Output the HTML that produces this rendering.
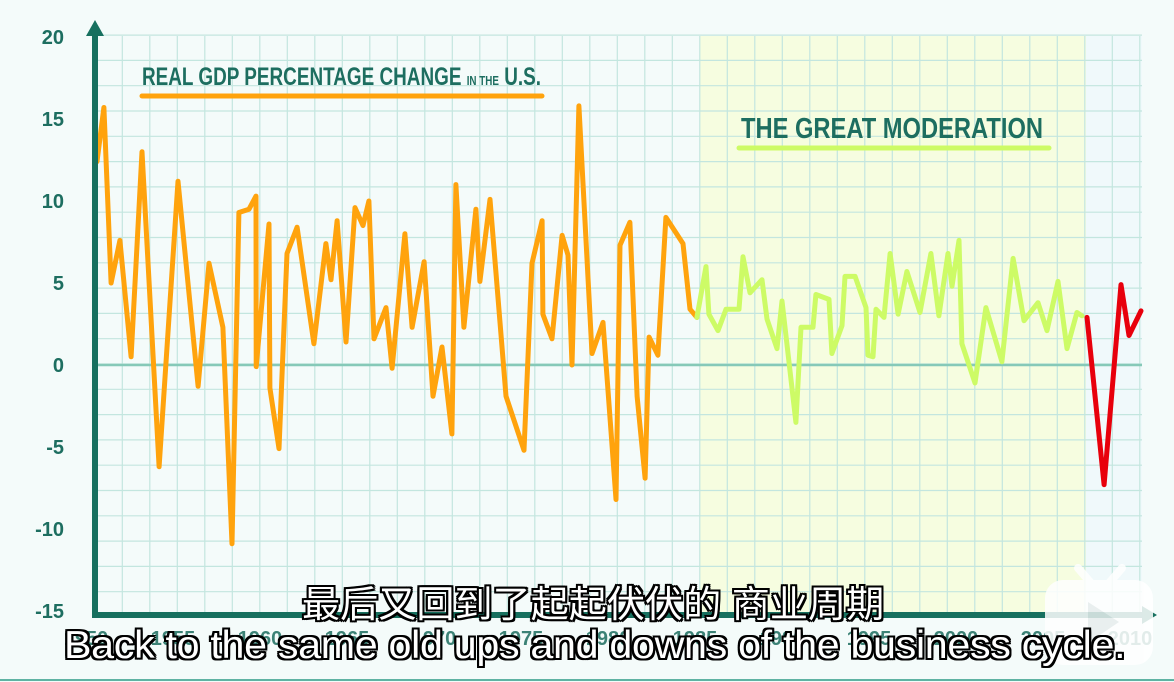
<!DOCTYPE html>
<html><head><meta charset="utf-8">
<style>
html,body{margin:0;padding:0;}
body{width:1174px;height:682px;overflow:hidden;background:#f4fbfa;position:relative;font-family:"Liberation Sans Narrow","Liberation Sans",sans-serif;}
svg{position:absolute;left:0;top:0;}
.sub{position:absolute;white-space:nowrap;color:#fff;transform-origin:0 0;text-shadow:-2px -2px 0 #000,2px -2px 0 #000,-2px 2px 0 #000,2px 2px 0 #000,0 2px 0 #000,0 -2px 0 #000,2px 0 0 #000,-2px 0 0 #000;}
</style></head>
<body>
<svg id="chart" width="1174" height="682"></svg>
<div class="sub" style="left:302px;top:574px;font-size:37px;transform:scaleX(1.03);font-family:'Liberation Sans','Noto Sans CJK SC',sans-serif;">最后又回到了起起伏伏的 商业周期</div>
<div class="sub" style="left:64px;top:624px;font-size:39px;transform:scaleX(1.057);font-family:'Liberation Sans',sans-serif;letter-spacing:-0.3px;">Back to the same old ups and downs of the business cycle.</div>
<script>
const orangeYears=[1950.63,1951.03,1951.44,1951.95,1952.59,1953.22,1954.20,1955.29,1956.44,1957.07,1957.87,1958.39,1958.79,1959.37,1959.77,1959.78,1960.52,1960.57,1961.09,1961.55,1962.13,1963.10,1963.79,1964.08,1964.43,1964.94,1965.46,1965.92,1966.26,1966.55,1967.24,1967.59,1968.33,1968.74,1969.43,1969.94,1970.46,1971.03,1971.26,1971.72,1972.41,1972.64,1973.22,1974.14,1975.17,1975.63,1976.21,1976.26,1976.78,1977.36,1977.70,1977.93,1978.33,1979.08,1979.71,1980.46,1980.69,1981.26,1981.67,1982.13,1982.36,1982.87,1983.33,1984.31,1984.71,1985.11];
const orangeValues=[12.4,15.7,5.0,7.6,0.5,13.0,-6.2,11.2,-1.3,6.2,2.3,-10.9,9.3,9.5,10.3,-0.1,8.6,-1.4,-5.1,6.8,8.4,1.3,7.4,5.2,8.8,1.4,9.6,8.5,10.0,1.6,3.5,-0.2,8.0,2.3,6.3,-1.9,1.1,-4.2,11.0,2.3,9.5,5.1,10.1,-1.9,-5.2,6.2,8.8,3.1,1.6,7.9,6.7,0.0,15.8,0.7,2.6,-8.2,7.3,8.7,-1.9,-6.9,1.7,0.6,9.0,7.4,3.4,2.9];
const greenYears=[1985.11,1985.63,1985.80,1986.32,1986.78,1987.53,1987.76,1988.16,1988.85,1989.14,1989.71,1990.00,1990.80,1991.09,1991.78,1991.95,1992.70,1992.87,1993.45,1993.62,1994.20,1994.83,1994.94,1995.23,1995.40,1995.86,1996.21,1996.67,1997.18,1997.93,1998.56,1999.02,1999.54,1999.77,2000.17,2000.34,2001.09,2001.72,2002.64,2003.28,2003.91,2004.71,2005.23,2005.86,2006.38,2006.95,2007.24];
const greenValues=[2.9,6.0,3.1,2.1,3.4,3.4,6.6,4.4,5.2,2.8,1.0,3.9,-3.5,2.3,2.3,4.3,4.0,0.7,2.4,5.4,5.4,3.5,0.6,0.5,3.4,2.9,6.8,3.1,5.7,3.2,6.8,3.0,6.8,4.8,7.6,1.3,-1.1,3.5,0.2,6.5,2.7,3.8,2.1,5.1,1.0,3.2,3.0];
const redYears=[2007.53,2008.51,2009.48,2009.94,2010.63];
const redValues=[2.9,-7.3,4.9,1.8,3.3];
const yTicks=[20,15,10,5,0,-5,-10,-15];
const xTicks=[1950,1955,1960,1965,1970,1975,1980,1985,1990,1995,2000,2005,2010];

const NS='http://www.w3.org/2000/svg';
const svg=document.getElementById('chart');
const X=yr=>86+(yr-1950)*17.4;
const Y=v=>365-v*16.4;
function mk(tag,attrs,parent){const e=document.createElementNS(NS,tag);for(const k in attrs)e.setAttribute(k,attrs[k]);(parent||svg).appendChild(e);return e;}

let r=mk('rect',{x:700,y:36,width:386,height:578,fill:'#f6fde0'});


let r2=mk('rect',{x:1086,y:36,width:56,height:578,fill:'#f0f9fb'});



const grid=mk('g',{stroke:'#c3e6df','stroke-width':1.2});


for(let gx=122.3;gx<1145;gx+=27.5){mk('line',{x1:gx,y1:36,x2:gx,y2:614},grid);}
for(let gy=364-13*25.3;gy<614;gy+=25.3){mk('line',{x1:97,y1:gy,x2:1142,y2:gy},grid);}

let z=mk('line',{x1:97,y1:Y(0),x2:1142,y2:Y(0),stroke:'#86c9b8','stroke-width':2.5});



function series(xs,vs,color,name){
  const pts=xs.map((x,i)=>X(x).toFixed(1)+','+Y(vs[i]).toFixed(1)).join(' ');
  const p=mk('polyline',{points:pts,fill:'none',stroke:color,'stroke-width':5,'stroke-linejoin':'round','stroke-linecap':'round'});
  
  
}
series(orangeYears,orangeValues,'#ffa30d','gdp-line-pre-1985');
series(greenYears,greenValues,'#cdfb66','gdp-line-great-moderation');
series(redYears,redValues,'#e8000c','gdp-line-recession');

const ax=mk('g',{});


mk('line',{x1:95,y1:30,x2:95,y2:616,stroke:'#17705f','stroke-width':6},ax);
mk('polygon',{points:'95,20 86,36 104,36',fill:'#17705f'},ax);
mk('line',{x1:92,y1:615,x2:1145,y2:615,stroke:'#17705f','stroke-width':6},ax);
mk('polygon',{points:'1157,615 1142,606 1142,624',fill:'#17705f'},ax);

yTicks.forEach(v=>{
  const t=mk('text',{x:64,y:Y(v)+7,'text-anchor':'end','font-size':20,'font-weight':'bold',fill:'#1d6e60','font-family':'"Liberation Sans Narrow","Liberation Sans",sans-serif'});
  t.textContent=v;
  
  
});
xTicks.forEach(v=>{
  const t=mk('text',{x:X(v),y:645,'text-anchor':'middle','font-size':20,'font-weight':'bold',fill:'#1d6e60','opacity':0.85,'font-family':'"Liberation Sans Narrow","Liberation Sans",sans-serif'});
  t.textContent=v;
  
  
});

const t1=mk('text',{x:142,y:85,'font-size':25,'font-weight':'bold',fill:'#1d6e60',textLength:399,lengthAdjust:'spacingAndGlyphs','font-family':'"Liberation Sans Narrow","Liberation Sans",sans-serif'});
t1.innerHTML='REAL GDP PERCENTAGE CHANGE <tspan font-size="13">IN THE</tspan> U.S.';


let u1=mk('line',{x1:142,y1:96,x2:542,y2:96,stroke:'#ffa30d','stroke-width':5,'stroke-linecap':'round'});


const t2=mk('text',{x:741,y:138,'font-size':29,'font-weight':'bold',fill:'#1d6e60',textLength:302,lengthAdjust:'spacingAndGlyphs','font-family':'"Liberation Sans Narrow","Liberation Sans",sans-serif'});
t2.textContent='THE GREAT MODERATION';


let u2=mk('line',{x1:739,y1:148,x2:1049,y2:148,stroke:'#cdfb66','stroke-width':5,'stroke-linecap':'round'});



let bb=mk('line',{x1:0,y1:680,x2:1174,y2:680,stroke:'#5fb3a3','stroke-width':2});



const lg=mk('g',{opacity:0.85});


mk('rect',{x:1045,y:580,width:108,height:85,rx:18,fill:'#ffffff'},lg);
mk('line',{x1:1078,y1:568,x2:1090,y2:582,stroke:'#fff','stroke-width':8,'stroke-linecap':'round'},lg);
mk('line',{x1:1122,y1:568,x2:1110,y2:582,stroke:'#fff','stroke-width':8,'stroke-linecap':'round'},lg);
mk('polygon',{points:'1088,602 1088,643 1119,622',fill:'#e8eeee'},lg);
</script>
</body></html>
